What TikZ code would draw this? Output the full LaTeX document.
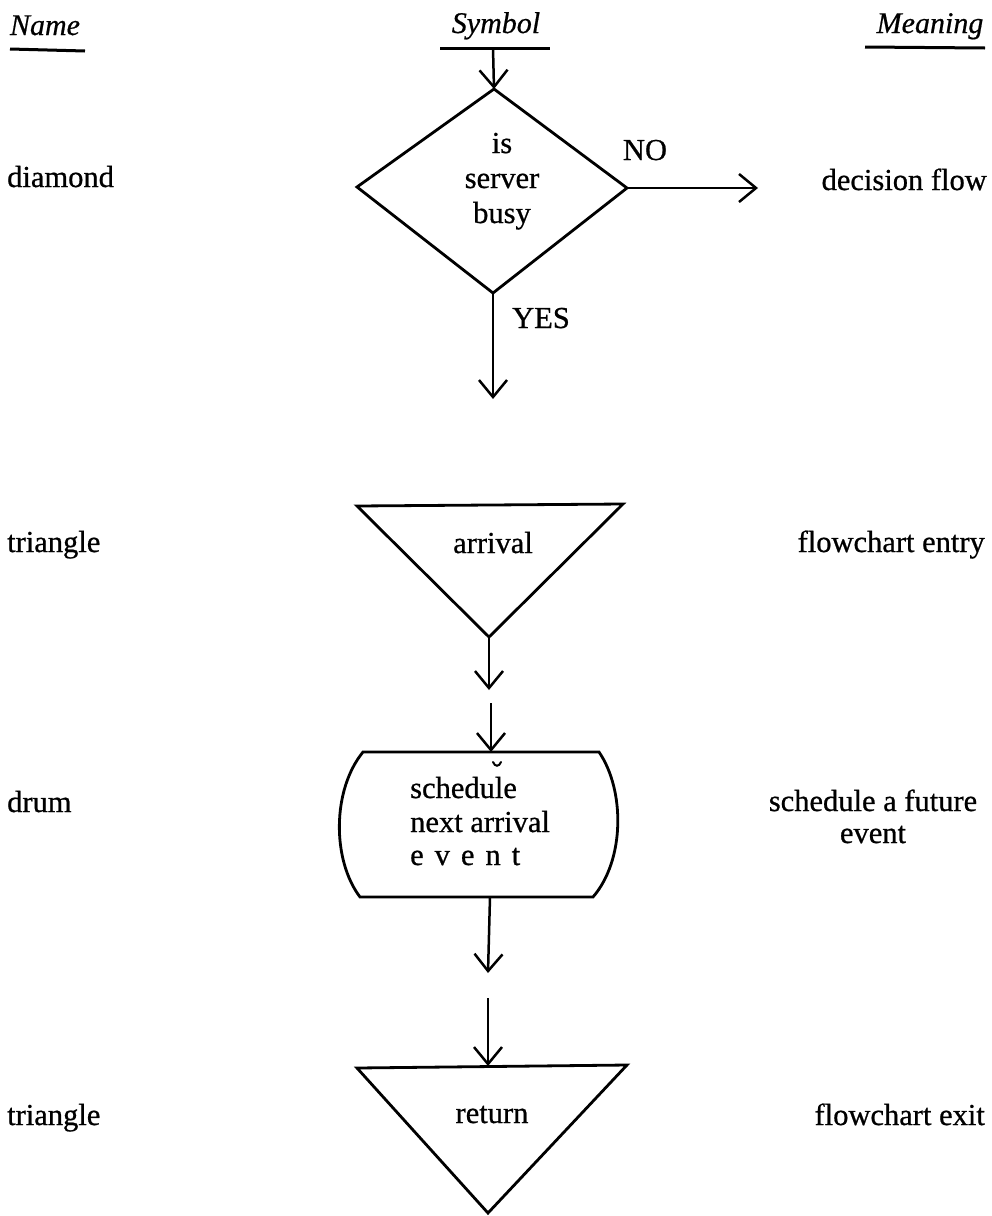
\documentclass[tikz,border=0pt]{standalone}
\usepackage{fontspec}
\setmainfont{Liberation Serif}
\newfontfamily\inkfont{Liberation Serif}[FakeBold=0.7]
\newfontfamily\inkitfont{Liberation Serif Italic}[FakeBold=0.6]
\usetikzlibrary{arrows.meta}
\begin{document}
\begin{tikzpicture}[x=1pt,y=-1pt,
  lbl/.style={font=\inkfont\fontsize{30.5}{34}\selectfont, inner sep=0pt},
  hdr/.style={font=\inkitfont\fontsize{30}{34}\selectfont, inner sep=0pt},
  rule/.style={line width=3pt},
  outline/.style={line width=2.8pt, line join=miter},
  flow/.style={line width=2.5pt, -{Straight Barb[length=17pt,width=28pt,line width=2.5pt]}}]
\useasboundingbox (0,0) rectangle (992,1216);

% column headings
\node[hdr, anchor=base] (hname) at (45,35) {Name};
\node[hdr, anchor=base] (hsym) at (496,33) {Symbol};
\node[hdr, anchor=base] (hmean) at (930,33) {Meaning};
\draw[rule] (10,49) -- (85,51);
\draw[rule] (440,48) -- (550,48);
\draw[rule] (865,47) -- (985,48);
\coordinate (symrule) at (493,48);

% diamond: decision
\coordinate (dtop) at (494,89);
\coordinate (dleft) at (357,187);
\coordinate (dright) at (627,188);
\coordinate (dbot) at (493,293);
\draw[outline] (dtop) -- (dright) -- (dbot) -- (dleft) -- cycle;
\node[lbl, anchor=base] (dis) at (502,153) {is};
\node[lbl, anchor=base] (dserver) at (502,188) {server};
\node[lbl, anchor=base] (dbusy) at (502,223) {busy};
\node[lbl, anchor=base] (no) at (645,160) {NO};
\node[lbl, anchor=base] (yes) at (541,328) {YES};
\coordinate (noend) at (758,188);
\coordinate (yesend) at (493,399);

% triangle: entry
\coordinate (t1l) at (357,506);
\coordinate (t1r) at (623,504);
\coordinate (t1b) at (489,637);
\draw[outline] (t1l) -- (t1r) -- (t1b) -- cycle;
\node[lbl, anchor=base] (arrival) at (493,553) {arrival};
\coordinate (t1end) at (489,690);

% drum
\coordinate (drtl) at (363,752);
\coordinate (drtr) at (599,752);
\coordinate (drbr) at (593,897);
\coordinate (drbl) at (360,897);
\coordinate (drtop) at (491,752);
\coordinate (drbot) at (490,897);
\coordinate (drin) at (491,703);
\draw[outline] (drtl) -- (drtr)
  .. controls (625,790) and (625,860) .. (drbr) -- (drbl)
  .. controls (332,860) and (332,790) .. (drtl) -- cycle;
\draw[line width=2pt, line cap=round] (493,762) .. controls (495,767) and (499,767) .. (501,762);
\node[lbl, anchor=base west] (sched) at (410,798) {schedule};
\node[lbl, anchor=base west] (next) at (410,832) {next arrival};
\node[lbl, anchor=base west] (evt) at (410,865) {e\hspace{0.36em}v\hspace{0.36em}e\hspace{0.36em}n\hspace{0.36em}t};
\coordinate (drout) at (488,973);

% triangle: exit
\coordinate (t2in) at (488,998);
\coordinate (t2l) at (357,1068);
\coordinate (t2r) at (627,1065);
\coordinate (t2b) at (488,1213);
\coordinate (t2top) at (488,1066);
\draw[outline] (t2l) -- (t2r) -- (t2b) -- cycle;
\node[lbl, anchor=base] (ret) at (492,1123) {return};

% connectors
\draw[flow] (symrule) -- (dtop);
\draw[flow] (dright) -- (noend);
\draw[flow] (dbot) -- (yesend);
\draw[flow] (t1b) -- (t1end);
\draw[flow] (drin) -- (drtop);
\draw[flow] (drbot) -- (drout);
\draw[flow] (t2in) -- (t2top);

% names
\node[lbl, anchor=base west] (ndiamond) at (7,187) {diamond};
\node[lbl, anchor=base west] (ntri1) at (7,552) {triangle};
\node[lbl, anchor=base west] (ndrum) at (7,812) {drum};
\node[lbl, anchor=base west] (ntri2) at (7,1125) {triangle};

% meanings
\node[lbl, anchor=base east] (mdec) at (987,190) {decision flow};
\node[lbl, anchor=base east] (mentry) at (985,552) {flowchart entry};
\node[lbl, anchor=base] (msched) at (873,811) {schedule a future};
\node[lbl, anchor=base] (mevent) at (873,843) {event};
\node[lbl, anchor=base east] (mexit) at (985,1125) {flowchart exit};
\end{tikzpicture}
\end{document}
